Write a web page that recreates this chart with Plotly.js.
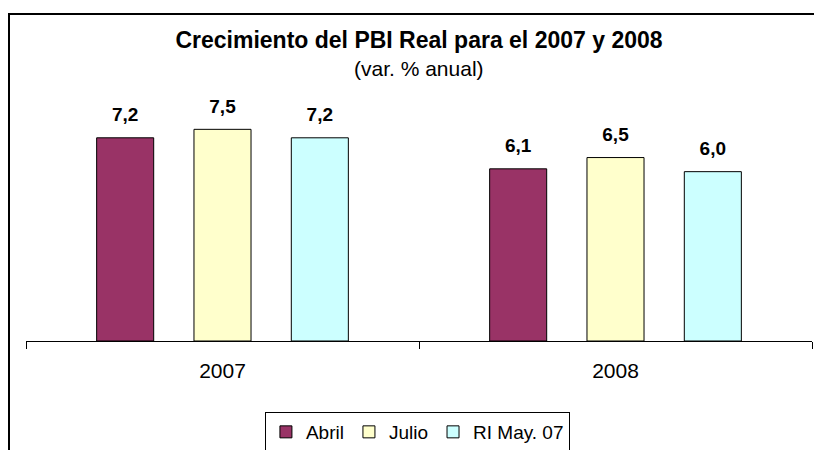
<!DOCTYPE html>
<html>
<head>
<meta charset="utf-8">
<script src="https://cdn.plot.ly/plotly-3.0.1.min.js"></script>
<style>
  html, body { margin: 0; padding: 0; background: #ffffff; overflow: hidden; }
  #wrap { position: relative; width: 814px; height: 450px; }
  #frame { position: absolute; left: 8px; top: 13px; width: 900px; height: 600px;
           border: 2px solid #000000; box-sizing: border-box; }
  #chart { position: absolute; left: 0; top: 0; width: 814px; height: 450px; }
</style>
</head>
<body>
<div id="wrap">
  <div id="frame"></div>
  <div id="chart"></div>
</div>
<script>
// ---- data ----
const categories = ['2007', '2008'];
const seriesNames = ['Abril', 'Julio', 'RI May. 07'];
const abril = [7.2, 6.1];
const julio = [7.5, 6.5];
const riMay07 = [7.2, 6.0];
const titleText = 'Crecimiento del PBI Real para el 2007 y 2008';
const subtitleText = '(var. % anual)';

// ---- styles ----
const seriesValues = [abril, julio, riMay07];
const colors = ['#993366', '#FFFFCC', '#CCFFFF'];
const FONT = 'Liberation Sans, Arial, Helvetica, sans-serif';
const BARGAP = 0.257;

const traces = [];
seriesValues.forEach((vals, i) => {
  traces.push({
    type: 'bar',
    name: seriesNames[i],
    x: categories,
    y: vals,
    marker: { color: colors[i], line: { color: '#000000', width: 1 } },
    hoverinfo: 'x+y+name'
  });
});
// value labels, aligned with the grouped bars
seriesValues.forEach((vals, i) => {
  traces.push({
    type: 'scatter',
    mode: 'markers+text',
    x: categories,
    y: vals,
    texttemplate: '%{y:.1f}',
    textposition: 'top center',
    textfont: { family: FONT, size: 19, color: '#000000', weight: 'bold' },
    marker: { size: 17.6, opacity: 0 },
    showlegend: false,
    hoverinfo: 'skip',
    cliponaxis: false
  });
});

const layout = {
  width: 814,
  height: 450,
  autosize: false,
  margin: { l: 26, r: 2, t: 87, b: 109, pad: 0, autoexpand: false },
  paper_bgcolor: 'rgba(0,0,0,0)',
  plot_bgcolor: 'rgba(0,0,0,0)',
  separators: ',.',
  font: { family: FONT, color: '#000000' },
  barmode: 'group',
  bargap: BARGAP,
  bargroupgap: 0.414,
  scattermode: 'group',
  scattergap: BARGAP,
  title: {
    text: '<b>' + titleText + '</b>',
    font: { family: FONT, size: 23, color: '#000000' },
    x: 0.5, xref: 'paper', xanchor: 'center',
    y: 1 - 40 / 450, yref: 'container', yanchor: 'middle'
  },
  annotations: [{
    text: subtitleText,
    xref: 'paper', yref: 'paper',
    x: 0.5, y: (341 - 69) / 254,
    xanchor: 'center', yanchor: 'middle',
    showarrow: false,
    font: { family: FONT, size: 21, color: '#000000' }
  }],
  xaxis: {
    type: 'category',
    range: [-0.5, 1.5],
    showline: true, linecolor: '#000000', linewidth: 1,
    ticks: 'outside', ticklen: 7, tickwidth: 1, tickcolor: '#000000',
    tickson: 'boundaries',
    showgrid: false, zeroline: false,
    tickfont: { family: FONT, size: 21, color: '#000000' },
    ticklabelstandoff: 11,
    fixedrange: true
  },
  yaxis: {
    range: [0, 9],
    visible: false,
    showgrid: false, zeroline: false,
    fixedrange: true
  },
  showlegend: true,
  legend: {
    orientation: 'h',
    x: 0.498, xanchor: 'center',
    y: (341 - 412) / 254, yanchor: 'top',
    bordercolor: '#000000', borderwidth: 1,
    bgcolor: '#ffffff',
    font: { family: FONT, size: 19, color: '#000000' },
    itemwidth: 30
  }
};

Plotly.newPlot('chart', traces, layout, { displayModeBar: false, staticPlot: true });
</script>
</body>
</html>
